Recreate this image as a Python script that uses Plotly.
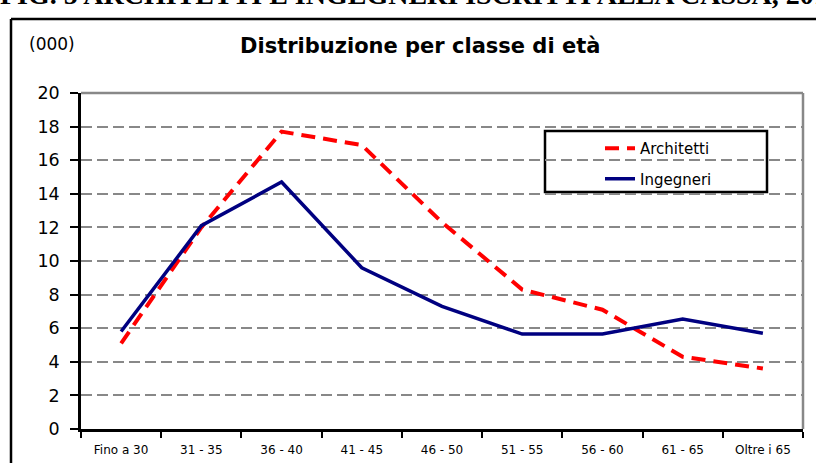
import plotly.graph_objects as go

# age classes and counts (thousands)
categories = ["Fino a 30", "31 - 35", "36 - 40", "41 - 45", "46 - 50",
              "51 - 55", "56 - 60", "61 - 65", "Oltre i 65"]
architetti = [5.1, 12.0, 17.7, 16.9, 12.3, 8.3, 7.1, 4.3, 3.6]
ingegneri = [5.8, 12.1, 14.7, 9.6, 7.3, 5.65, 5.65, 6.55, 5.7]
y_ticks = [0, 2, 4, 6, 8, 10, 12, 14, 16, 18, 20]

W, H = 816, 463
L, R, T, B = 81, 13, 93, 34
pw, ph = W - L - R, H - T - B


def px(x):
    return (x - L) / pw


def py(y):
    return (H - B - y) / ph


fig = go.Figure()
fig.add_trace(go.Scatter(
    x=categories, y=architetti, name="Architetti", mode="lines",
    legendgroup="a",
    line={"color": "#ff0000", "width": 4, "dash": "14px,8px"},
))
fig.add_trace(go.Scatter(
    x=categories, y=ingegneri, name="Ingegneri", mode="lines",
    legendgroup="i",
    line={"color": "#000080", "width": 3.5},
))

fig.update_layout(
    width=W, height=H,
    margin={"l": L, "r": R, "t": T, "b": B},
    paper_bgcolor="white", plot_bgcolor="white",
    showlegend=True,
    legend={
        "x": px(600), "y": py(132), "xanchor": "left", "yanchor": "top",
        "borderwidth": 0, "bgcolor": "rgba(0,0,0,0)",
        "font": {"family": "DejaVu Sans, Verdana", "size": 15, "color": "black"},
        "tracegroupgap": 8,
    },
    xaxis={
        "type": "category", "range": [-0.5, 8.5], "automargin": False,
        "showline": True, "linecolor": "black", "linewidth": 2.5,
        "ticks": "outside", "tickson": "boundaries", "ticklen": 6,
        "tickwidth": 2, "tickcolor": "black", "ticklabelstandoff": 8,
        "showgrid": False, "zeroline": False,
        "tickfont": {"family": "DejaVu Sans, Verdana", "size": 12, "color": "black"},
    },
    yaxis={
        "range": [0, 20], "tickvals": y_ticks, "automargin": False,
        "showline": True, "linecolor": "black", "linewidth": 2.5,
        "ticks": "outside", "ticklen": 8, "tickwidth": 2, "tickcolor": "black",
        "ticklabelstandoff": 7,
        "showgrid": True, "gridcolor": "#888888", "gridwidth": 2,
        "griddash": "11px,5px", "zeroline": False,
        "tickfont": {"family": "DejaVu Sans, Verdana", "size": 17.5, "color": "black"},
    },
    shapes=[
        # gray top and right border of plot area
        {"type": "line", "xref": "paper", "yref": "paper",
         "x0": 0, "x1": 1, "y0": 1, "y1": 1,
         "line": {"color": "#888888", "width": 2.5}},
        {"type": "line", "xref": "paper", "yref": "paper",
         "x0": 1, "x1": 1, "y0": 0, "y1": 1,
         "line": {"color": "#888888", "width": 2.5}},
        # legend box
        {"type": "rect", "xref": "paper", "yref": "paper", "layer": "between",
         "x0": px(545), "x1": px(767), "y0": py(192), "y1": py(131),
         "fillcolor": "white", "line": {"color": "black", "width": 2.5}},
        # outer black frame (left and top)
        {"type": "line", "xref": "paper", "yref": "paper",
         "x0": px(11), "x1": px(11), "y0": py(470), "y1": py(19),
         "line": {"color": "black", "width": 2.5}},
        {"type": "line", "xref": "paper", "yref": "paper",
         "x0": px(11), "x1": px(830), "y0": py(19), "y1": py(19),
         "line": {"color": "black", "width": 2.5}},
    ],
    annotations=[
        {"text": "<b>Distribuzione per classe di età</b>",
         "xref": "paper", "yref": "paper", "x": px(420), "y": py(46),
         "showarrow": False, "xanchor": "center", "yanchor": "middle",
         "font": {"family": "DejaVu Sans, Verdana", "size": 21, "color": "black"}},
        {"text": "(000)",
         "xref": "paper", "yref": "paper", "x": px(27), "y": py(44),
         "showarrow": False, "xanchor": "left", "yanchor": "middle",
         "font": {"family": "DejaVu Sans, Verdana", "size": 17, "color": "black"}},
        {"text": "<b>FIG. 5 ARCHITETTI E INGEGNERI ISCRITTI ALLA CASSA, 2012</b>",
         "xref": "paper", "yref": "paper", "x": px(-2), "y": py(12),
         "showarrow": False, "xanchor": "left", "yanchor": "bottom",
         "font": {"family": "Liberation Serif, Times New Roman", "size": 28,
                  "color": "black"}},
    ],
)

fig.write_html("out.html", config={"displayModeBar": False},
               post_script="document.body.style.margin = '0';")
